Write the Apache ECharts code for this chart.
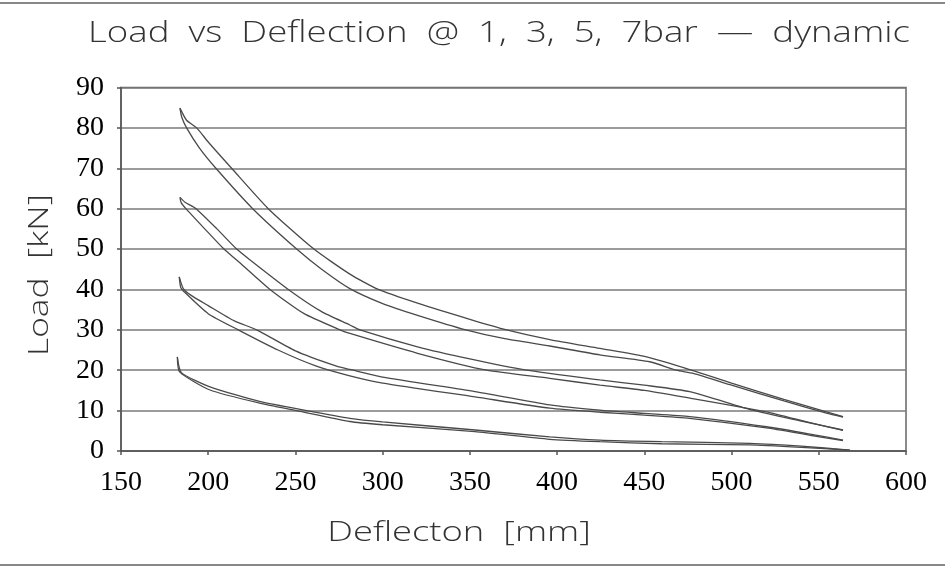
<!DOCTYPE html>
<html>
<head>
<meta charset="utf-8">
<script src="https://cdn.jsdelivr.net/npm/echarts@6/dist/echarts.min.js"></script>
<style>
html,body{margin:0;padding:0;background:#fff;}
#chart{width:945px;height:573px;}
</style>
</head>
<body>
<div id="chart"></div>
<script>
// ---- data (Deflection [mm], Load [kN]) ----
const titleText = 'Load  vs  Deflection  @  1,  3,  5,  7bar  \u2014  dynamic';
const xName = 'Deflecton  [mm]';
const yName = 'Load  [kN]';
const xTicks = [150, 200, 250, 300, 350, 400, 450, 500, 550, 600];
const yTicks = [0, 10, 20, 30, 40, 50, 60, 70, 80, 90];

// 7 bar loop
const bar7Upper = [[183.8,84.9],[187.6,81.9],[193.4,80],[200,76.5],[213.4,70],[234.4,60],[260.6,50],[281.2,43.8],[297.5,40],[320,36.6],[350,32.6],[371,30],[395.8,27.6],[424.5,25.4],[451.3,23.3],[478,19.9],[500,16.8],[530,12.8],[554.4,9.7],[563.9,8.5]];
const bar7Lower = [[183.8,84.9],[184.8,82.7],[187.6,80],[195,75],[204.4,70],[225.5,60],[250.7,50],[265,45],[281.2,40.2],[300,36.5],[320,33.6],[347.7,30],[370,27.8],[395.8,26],[424.5,23.8],[453,22.1],[468.4,20],[478,19.2],[500,16.3],[530,12.4],[554.4,9.4],[563.9,8.4]];
// 5 bar loop
const bar5Upper = [[183.8,62.8],[186.7,61.6],[193,60],[205,55],[216.3,50],[224,47.3],[245.9,40],[265,34.5],[281.2,31.2],[287,30],[320,25.8],[350,22.8],[382.5,20],[424.5,17.6],[450,16.3],[476,14.7],[512,10.1],[540,7.4],[563.9,5.2]];
const bar5Lower = [[183.8,62.8],[184.5,61.5],[187.2,60],[198,55],[209,50],[216.3,47.3],[235.4,40],[255,34],[275.5,30],[281.2,29.1],[320,24.2],[359.6,20],[395.8,18],[424.5,16.3],[450,15],[472,13.4],[520,9.7],[545,7],[563.9,5.1]];
// 3 bar loop
const bar3Upper = [[183.4,43.1],[185.7,40.2],[190,38.6],[200,36],[215,32.2],[227.8,30],[250,24.8],[273.6,21],[281.2,20.2],[300,18.3],[352.9,14.7],[395.8,11.4],[424.5,10.1],[450,9.3],[476,8.5],[520,6.0],[545,4.2],[563.9,2.7]];
const bar3Lower = [[183.4,43.1],[184.2,40.5],[186,39.5],[200,34],[217.2,30],[240,25],[262,21],[281.2,18.6],[300,16.8],[352.9,13.4],[395.8,10.6],[424.5,9.6],[450,8.9],[476,8.1],[520,5.7],[545,3.9],[563.9,2.6]];
// 1 bar loop
const bar1Upper = [[182.3,23.3],[184.6,19.4],[201,15.9],[230,12.2],[256.4,10],[281.2,8.1],[300,7.2],[352.9,5.2],[395.8,3.5],[424.5,2.7],[460,2.3],[510.4,1.9],[540,1.2],[567.8,0.2]];
const bar1Lower = [[182.3,23.3],[183.6,19.6],[201,15.1],[230,11.8],[250.7,10],[281.2,7.3],[300,6.5],[352.9,4.8],[395.8,2.9],[424.5,2.3],[460,1.8],[510.4,1.5],[540,0.9],[567.8,0.2]];

const curves = [
  ['7bar upper', bar7Upper], ['7bar lower', bar7Lower],
  ['5bar upper', bar5Upper], ['5bar lower', bar5Lower],
  ['3bar upper', bar3Upper], ['3bar lower', bar3Lower],
  ['1bar upper', bar1Upper], ['1bar lower', bar1Lower]
];

const thinFont = "'Open Sans', 'DejaVu Sans', sans-serif";
const serifFont = "'Liberation Serif', 'DejaVu Serif', serif";

function label(text, x, y, size, sx, rot) {
  return {
    type: 'text', x: x, y: y, scaleX: sx, scaleY: 1, rotation: rot || 0, z: 10,
    style: {
      text: text, fill: '#333', fontFamily: thinFont, fontWeight: 300, fontSize: size,
      align: 'center', verticalAlign: 'middle', textAlign: 'center', textVerticalAlign: 'middle'
    }
  };
}

const chart = echarts.init(document.getElementById('chart'), null, {renderer: 'canvas'});
chart.setOption({
  animation: false,
  backgroundColor: '#fff',
  graphic: [
    {type: 'line', shape: {x1: 0, y1: 3, x2: 945, y2: 3}, style: {stroke: '#888', lineWidth: 2}},
    {type: 'line', shape: {x1: 0, y1: 565, x2: 945, y2: 565}, style: {stroke: '#888', lineWidth: 2}},
    label(titleText, 499, 33, 30, 1.22, 0),
    label(xName, 459, 533, 28, 1.3, 0),
    label(yName, 40, 275, 28, 1.26, Math.PI / 2)
  ],
  grid: {left: 121, right: 39, top: 87.5, bottom: 122, show: true, borderColor: '#666', borderWidth: 1.5},
  xAxis: {
    type: 'value', min: xTicks[0], max: xTicks[xTicks.length - 1], interval: 50,
    axisLine: {show: true, lineStyle: {color: '#555', width: 1.5}},
    axisTick: {show: true, inside: false, length: 4, lineStyle: {color: '#555', width: 1.5}},
    axisLabel: {fontFamily: serifFont, fontSize: 28, color: '#000', margin: 18},
    splitLine: {show: false}
  },
  yAxis: {
    type: 'value', min: yTicks[0], max: yTicks[yTicks.length - 1], interval: 10,
    axisLine: {show: true, lineStyle: {color: '#555', width: 1.5}},
    axisTick: {show: true, inside: false, length: 4, lineStyle: {color: '#555', width: 1.5}},
    axisLabel: {fontFamily: serifFont, fontSize: 28, color: '#000', margin: 17},
    splitLine: {show: true, lineStyle: {color: '#7a7a7a', width: 1.5}}
  },
  series: curves.map(c => ({
    name: c[0],
    type: 'line',
    showSymbol: false,
    symbol: 'none',
    smooth: 0.2,
    data: c[1],
    lineStyle: {color: '#4a4a4a', width: 1.3},
    z: 3
  }))
});
</script>
</body>
</html>
